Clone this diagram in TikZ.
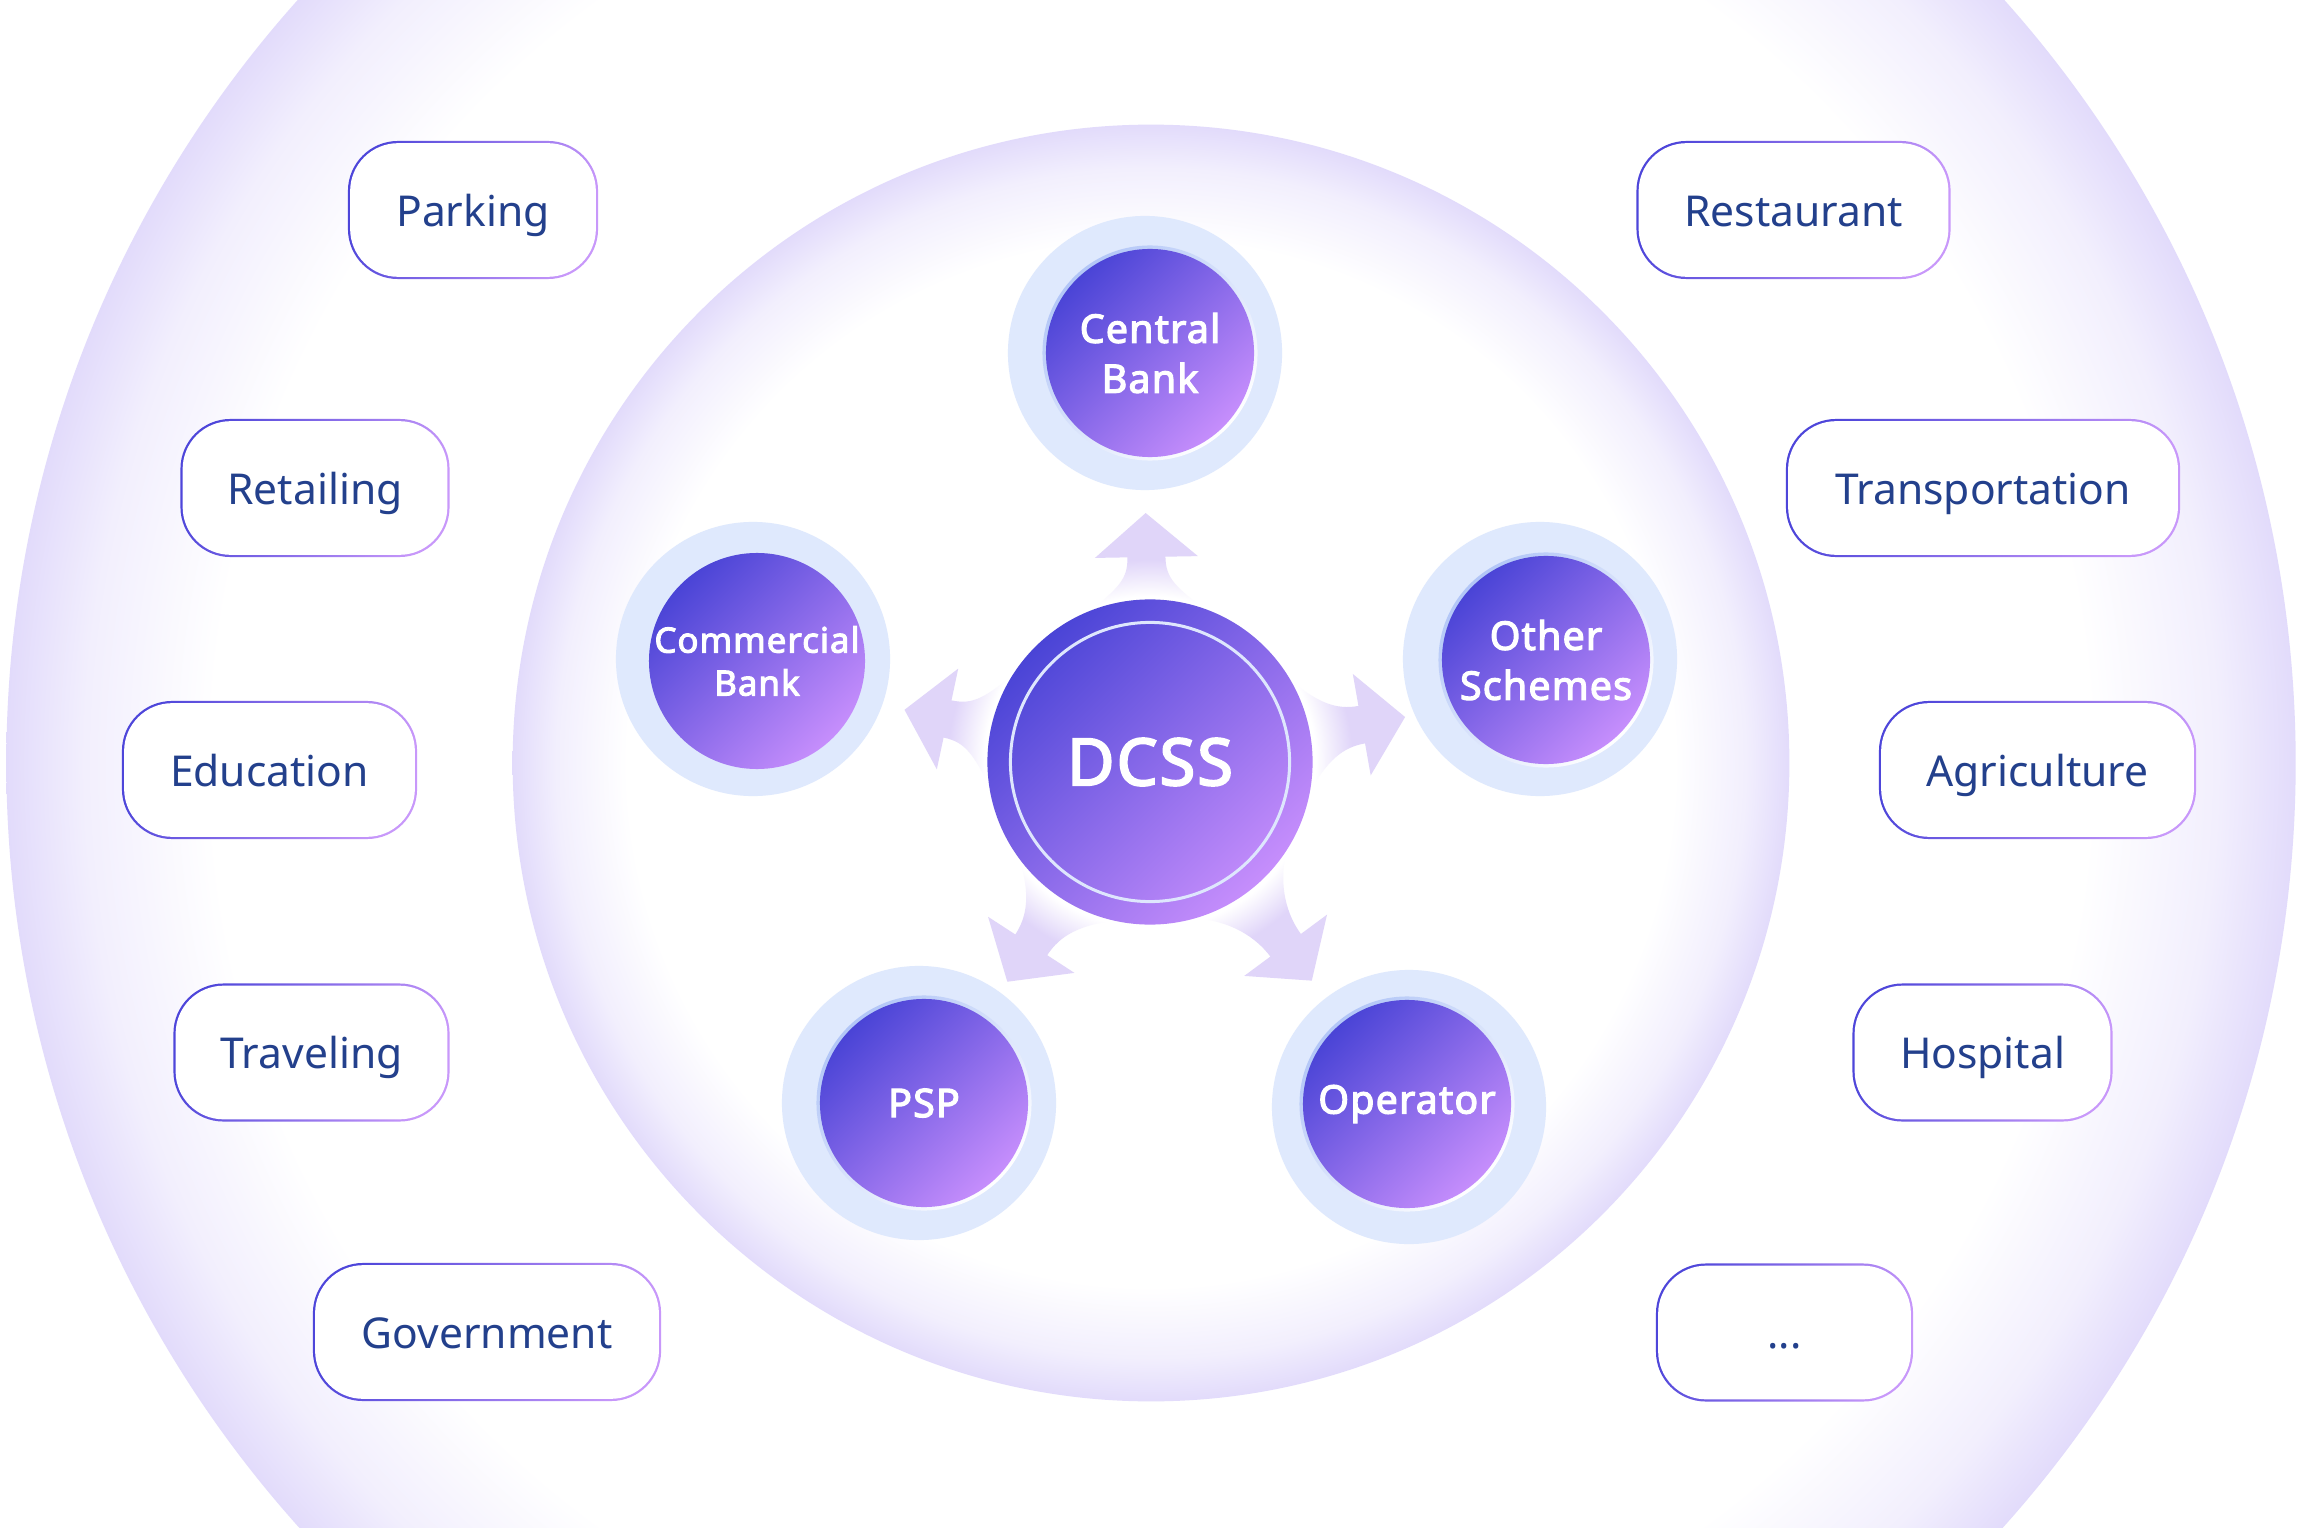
\documentclass[tikz,border=0pt]{standalone}
\usepackage{fontspec}
\setmainfont{Noto Sans}
\newfontfamily\satbold{Noto Sans}[FakeBold=3,LetterSpace=3]
\definecolor{lav}{RGB}{226,219,251}
\colorlet{lavmid}{lav!45!white}
\definecolor{arrowlav}{RGB}{224,213,249}
\colorlet{arrowmid}{arrowlav!50!white}
\definecolor{halo}{RGB}{223,233,253}
\definecolor{gA}{RGB}{74,68,214}
\definecolor{gB}{RGB}{198,142,252}
\definecolor{pillA}{RGB}{78,70,218}
\definecolor{pillB}{RGB}{200,152,250}
\definecolor{txt}{RGB}{35,64,140}
\definecolor{ringblue}{RGB}{178,198,247}
\definecolor{ringline}{RGB}{222,230,253}
\pgfdeclareradialshading{bigglow}{\pgfpoint{0bp}{0bp}}{color(0bp)=(white); color(20.5bp)=(white); color(23.3bp)=(lavmid); color(25bp)=(lav); color(50bp)=(lav)}
\pgfdeclareradialshading{stemglow}{\pgfpoint{0bp}{0bp}}{color(0bp)=(white); color(18bp)=(white); color(20bp)=(arrowmid); color(22bp)=(arrowlav); color(50bp)=(arrowlav)}
\newcommand\dcssarrow[2]{%
  \begin{scope}
    \clip[shift={(c)}, rotate=#1] ({#2+2},19) -- (#2,19) .. controls ({#2-22},19) and (175,28) .. (148,62) -- (110,62) -- (110,-62) -- (148,-62) .. controls (175,-28) and ({#2-22},-19) .. (#2,-19) -- ({#2+2},-19) -- cycle;
    \shade[shading=stemglow] (c) circle (2.3cm);
  \end{scope}
  \fill[arrowlav, shift={(c)}, rotate=#1] ({#2+44},0) -- (#2,51.5) -- (#2,-51.5) -- cycle;}
\begin{document}
\begin{tikzpicture}[x=0.01cm,y=-0.01cm,
  pill/.style={rectangle, rounded corners=0.5cm, minimum height=1.38cm, inner sep=0pt,
    top color=pillA, bottom color=pillB, shading angle=70, text=txt,
    font=\fontsize{12.1pt}{15pt}\selectfont, text height=0.32cm, text depth=0pt,
    path picture={\fill[white, rounded corners=0.48cm]
      ([shift={(0.022cm,0.022cm)}]path picture bounding box.south west) rectangle
      ([shift={(-0.022cm,-0.022cm)}]path picture bounding box.north east);}},
  sat/.style={circle, minimum size=2.08cm, inner sep=0pt, top color=gA, bottom color=gB,
    shading angle=45, text=white, align=center,
    font=\satbold\fontsize{11.2pt}{14.2pt}\selectfont},
  haloc/.style={fill=halo},
  ringc/.style={top color=ringblue, bottom color=white, shading angle=45}]
\useasboundingbox (0,0) rectangle (2304,1528);
\clip (0,0) rectangle (2304,1528);
\fill[white] (0,0) rectangle (2304,1528);
% big glowing circles
\shade[shading=bigglow] (1151,763) circle (11.44cm);
\shade[shading=bigglow] (1151,763) circle (6.38cm);
% left pills
\node[pill, minimum width=2.50cm] (parking) at (473,210) {Parking};
\node[pill, minimum width=2.69cm] (retailing) at (315,488) {Retailing};
\node[pill, minimum width=2.95cm] (education) at (269.5,770) {Education};
\node[pill, minimum width=2.76cm] (traveling) at (311.5,1052.5) {Traveling};
\node[pill, minimum width=3.48cm] (government) at (487,1332) {Government};
% right pills
\node[pill, minimum width=3.14cm] (restaurant) at (1793.5,210) {Restaurant};
\node[pill, minimum width=3.94cm] (transportation) at (1983,488) {Transportation};
\node[pill, minimum width=3.17cm] (agriculture) at (2037.5,770) {Agriculture};
\node[pill, minimum width=2.60cm] (hospital) at (1982.5,1052.5) {Hospital};
\node[pill, minimum width=2.57cm] (more) at (1784.5,1332.5) {...};
% halos
\fill[haloc] (1145,353) circle (1.37cm);
\fill[haloc] (753,659) circle (1.37cm);
\fill[haloc] (1540,659) circle (1.37cm);
\fill[haloc] (919,1103) circle (1.37cm);
\fill[haloc] (1409,1107) circle (1.37cm);
% arrows from DCSS
\coordinate (c) at (1150,762);
\dcssarrow{91}{205}
\dcssarrow{168}{207}
\dcssarrow{10}{215}
\dcssarrow{237}{218}
\dcssarrow{306.5}{228}
% DCSS
\node[circle, minimum size=3.25cm, inner sep=0pt, top color=gA, bottom color=gB, shading angle=45,
  text=white, font=\satbold\fontsize{18.5pt}{22pt}\selectfont] (dcss) at (c) {DCSS};
\draw[ringline, line width=0.03cm] (dcss.center) circle (1.395cm);
% satellites
\shade[ringc] (1150,353) circle (1.075cm);
\node[sat] (central) at (1150,353) {Central\\Bank};
\shade[ringc] (757,661) circle (1.075cm);
\node[sat, font=\satbold\fontsize{9.9pt}{12.2pt}\selectfont] (commercial) at (757,661) {Commercial\\Bank};
\shade[ringc] (1546,660) circle (1.075cm);
\node[sat] (other) at (1546,660) {Other\\Schemes};
\shade[ringc] (924,1103) circle (1.075cm);
\node[sat] (psp) at (924,1103) {PSP};
\shade[ringc] (1407,1104) circle (1.075cm);
\node[sat] (operator) at (1407,1104) {Operator};
\end{tikzpicture}
\end{document}
